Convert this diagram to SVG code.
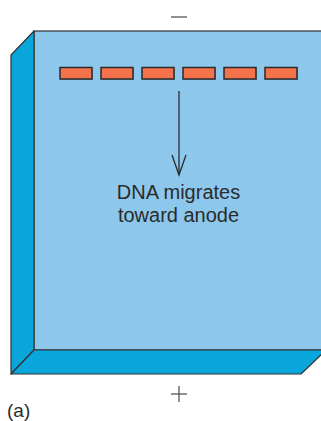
<svg xmlns="http://www.w3.org/2000/svg" width="321" height="421" viewBox="0 0 321 421">
<style>
.face{fill:#8DC7EC;stroke:#333;stroke-width:1.2}
.side{fill:#09A6DC;stroke:#333;stroke-width:1.2;stroke-linejoin:round}
.band{fill:#F4734B;stroke:#2a2a2a;stroke-width:1.5}
.shadow{fill:#5a7f9a;opacity:0.5}
.lbl{font-family:"Liberation Sans",Arial,sans-serif;font-size:20px;fill:#2b2b2b;text-anchor:middle}
.sign{stroke:#555;stroke-width:1.3;fill:none}
</style>
<g id="gel">
<rect class="face" x="34" y="31" width="292" height="319"/>
<polygon class="side" points="11,55 34,31 34,350 11,374"/>
<polygon class="side" points="11,374 34,350 326,350 301,374"/>
</g>
<g id="bands">
<rect class="shadow" x="61" y="68.5" width="32" height="11.5"/>
<rect class="band" x="60" y="67.5" width="32" height="11.5"/>
<rect class="shadow" x="102" y="68.5" width="32" height="11.5"/>
<rect class="band" x="101" y="67.5" width="32" height="11.5"/>
<rect class="shadow" x="143" y="68.5" width="32" height="11.5"/>
<rect class="band" x="142" y="67.5" width="32" height="11.5"/>
<rect class="shadow" x="184" y="68.5" width="32" height="11.5"/>
<rect class="band" x="183" y="67.5" width="32" height="11.5"/>
<rect class="shadow" x="225" y="68.5" width="32" height="11.5"/>
<rect class="band" x="224" y="67.5" width="32" height="11.5"/>
<rect class="shadow" x="266" y="68.5" width="32" height="11.5"/>
<rect class="band" x="265" y="67.5" width="32" height="11.5"/>
</g>
<g id="connectors">
<line x1="179" y1="91" x2="179" y2="175" stroke="#2b2b2b" stroke-width="1.3"/>
<polyline points="172,155 179,175 186,155" fill="none" stroke="#2b2b2b" stroke-width="1.3"/>
</g>
<g id="label">
<text class="lbl" x="178.5" y="199">DNA migrates</text>
<text class="lbl" x="178.5" y="221.5">toward anode</text>
</g>
<g id="electrodes">
<line class="sign" x1="171" y1="17" x2="187" y2="17"/>
<line class="sign" x1="171" y1="394" x2="187" y2="394"/>
<line class="sign" x1="179" y1="386" x2="179" y2="402"/>
</g>
<text x="7" y="417" font-family="Liberation Sans,Arial,sans-serif" font-size="19" fill="#2b2b2b">(a)</text>
</svg>
